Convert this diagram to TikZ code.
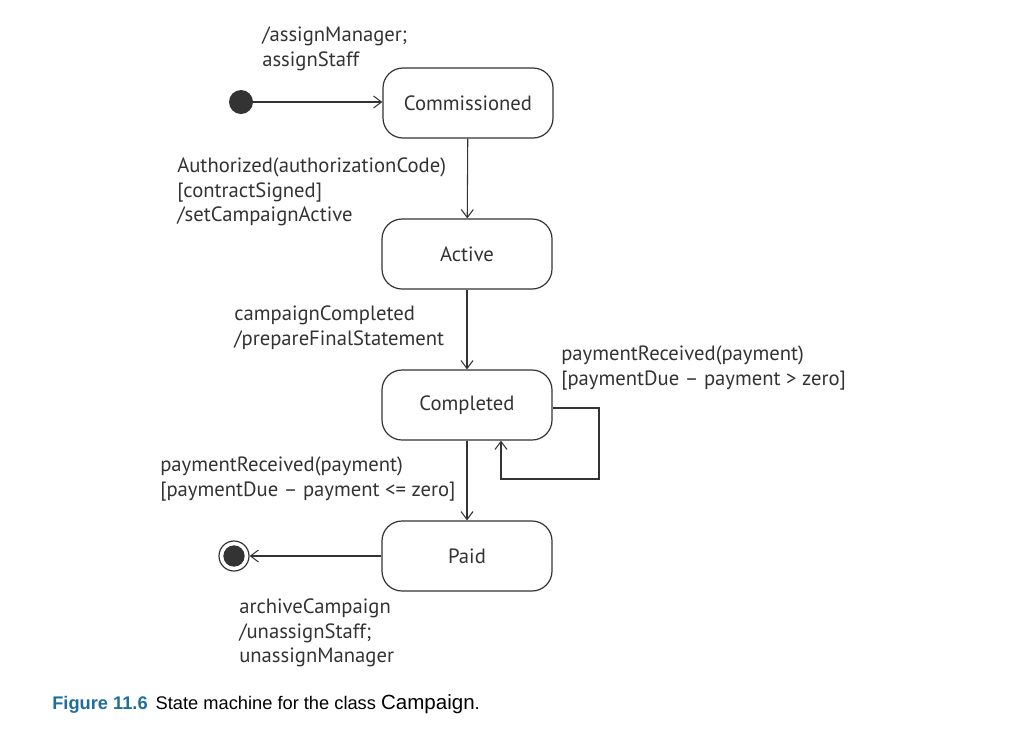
\documentclass[tikz,border=0pt]{standalone}
\usepackage{fontspec}
\setmainfont{PT Sans}
\newfontfamily\capfont{Liberation Sans}
\usetikzlibrary{arrows.meta}
\definecolor{capblue}{HTML}{1F6E9C}
\definecolor{ink}{HTML}{333333}
\begin{document}
\begin{tikzpicture}[x=0.75pt,y=-0.75pt,
  every node/.style={text=ink},
  state/.style={draw=ink, line width=0.9pt, rounded corners=15pt, minimum width=127.5pt, minimum height=52.5pt, font=\fontsize{15.5}{18}\selectfont},
  lbl/.style={anchor=north west, inner sep=0pt, align=left, font=\fontsize{15.5}{18.3}\selectfont},
  tr/.style={draw=ink, line width=0.8pt, -{Straight Barb[length=6pt,width=9pt]}}]
\useasboundingbox (0,0) rectangle (1016,740);
\node[state] (comm) at (468,103) {Commissioned};
\node[state] (act) at (467,254) {Active};
\node[state] (comp) at (467,405) {Completed};
\node[state] (paid) at (467,556) {Paid};
\node[circle, fill=ink, inner sep=0pt, minimum size=18pt] (init) at (241,102) {};
\node[circle, draw=ink, line width=0.9pt, inner sep=0pt, minimum size=22.5pt] (fin) at (234,556) {};
\node[circle, fill=ink, inner sep=0pt, minimum size=16pt] at (fin.center) {};
\coordinate (l1) at (599,408);
\coordinate (l2) at (599,479);
\coordinate (l3) at (501,479);
\draw[tr] (init) -- (comm.west |- init);
\draw[tr] (comm) -- (act);
\draw[tr] (act) -- (comp);
\draw[tr] (comp) -- (paid);
\draw[tr] (paid) -- (fin);
\draw[tr] (comp.east |- l1) -- (l1) -- (l2) -- (l3) -- (l3 |- comp.south);
\node[lbl] (t1) at (262,27) {/assignManager;\\assignStaff};
\node[lbl] (t2) at (177,158) {Authorized(authorizationCode)\\{}[contractSigned]\\/setCampaignActive};
\node[lbl] (t3) at (234,306) {campaignCompleted\\/prepareFinalStatement};
\node[lbl] (t4) at (561,346) {paymentReceived(payment)\\{}[paymentDue -- payment > zero]};
\node[lbl] (t5) at (160,457) {paymentReceived(payment)\\{}[paymentDue -- payment <= zero]};
\node[lbl] (t6) at (239,599) {archiveCampaign\\/unassignStaff;\\unassignManager};
\node[anchor=base west, inner sep=0pt, text=black, font=\capfont\fontsize{13.7}{16}\selectfont] (cap) at (52,709) {{\color{capblue}\bfseries Figure 11.6}\hspace{6pt}State machine for the class {\fontsize{15.4}{18}\selectfont Campaign}.};
\end{tikzpicture}
\end{document}
